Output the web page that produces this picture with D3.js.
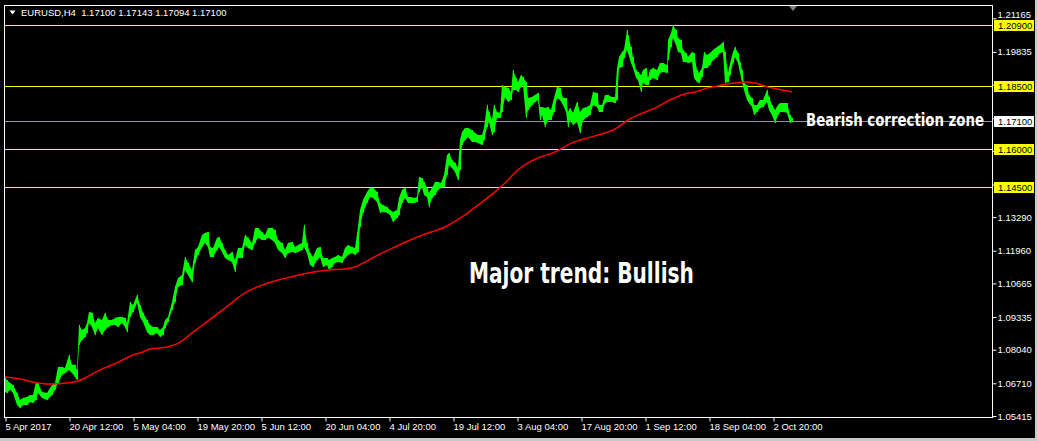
<!DOCTYPE html>
<html>
<head>
<meta charset="utf-8">
<script src="https://cdn.jsdelivr.net/npm/d3@7"></script>
<style>
  html, body { margin: 0; padding: 0; background: #000; }
  svg { display: block; }
  text { white-space: pre; }
</style>
</head>
<body>
<svg id="chart" width="1037" height="441"></svg>
<script>
// ---------------- DATA ----------------
const symbolTitle = "EURUSD,H4  1.17100 1.17143 1.17094 1.17100";
const dateLabels = ["5 Apr 2017","20 Apr 12:00","5 May 04:00","19 May 20:00","5 Jun 12:00","20 Jun 04:00","4 Jul 20:00","19 Jul 12:00","3 Aug 04:00","17 Aug 20:00","1 Sep 12:00","18 Sep 04:00","2 Oct 20:00"];
const dateTickBars = [0,64,128,192,256,320,384,448,512,576,640,704,768];
const priceTicks = [1.05415,1.06710,1.08040,1.09335,1.10665,1.11960,1.13290,1.14585,1.15915,1.17210,1.18540,1.19835,1.21165];
const hiddenTickLabels = [1.14585,1.15915,1.17210,1.18540];
const yellowLevels = [1.20900,1.18500,1.16000,1.14500];
const bidPrice = 1.17100;

// bar position (H4 bars from 5 Apr 2017), high, low
const barIndex = [
  0,2,5,8,12,15,18,22,25,28,
  31,33,37,42,47,50,53,57,60,64,
  67,70,72,74,77,80,82,84,87,90,
  93,97,100,103,107,110,113,117,120,122,
  125,128,132,135,138,142,145,148,152,155,
  158,160,163,167,170,173,177,180,183,187,
  190,193,197,200,203,205,208,212,214,217,
  220,223,227,230,233,237,240,243,247,250,
  253,257,260,263,267,270,273,277,280,283,
  287,290,293,297,299,302,305,308,312,315,
  318,322,324,327,330,333,337,340,343,347,
  350,353,355,358,362,365,368,372,375,378,
  382,385,388,392,394,397,400,403,406,409,
  412,414,417,419,422,424,427,430,433,436,
  439,442,444,447,450,453,455,457,460,463,
  467,470,473,477,479,482,484,487,489,492,
  495,497,500,503,506,508,511,513,516,518,
  521,523,527,530,533,535,537,540,543,546,
  549,552,555,558,561,563,565,568,572,575,
  578,582,585,588,592,594,597,600,603,607,
  610,612,614,617,619,622,623,626,628,631,
  633,636,638,641,643,645,648,652,655,658,
  662,663,666,668,671,673,676,678,681,683,
  687,689,692,694,697,699,702,705,708,712,
  715,718,720,723,725,728,730,733,735,737,
  739,742,744,747,749,752,755,758,762,764,
  767,770,773,775,778,782,785,787
];
const barHigh = [
  1.0692,1.0684,1.0672,1.0664,1.0633,1.0605,1.0613,1.0617,1.0625,1.0625,
  1.0676,1.0672,1.0637,1.0633,1.0664,1.0672,1.0736,1.0736,1.0732,1.0783,
  1.0744,1.0744,1.0724,1.0902,1.0882,1.0890,1.0910,1.0953,1.0950,1.0910,
  1.0930,1.0922,1.0950,1.0922,1.0922,1.0930,1.0934,1.0934,1.0930,1.0910,
  1.0993,1.0981,1.1021,1.0981,1.0950,1.0922,1.0902,1.0894,1.0894,1.0882,
  1.0894,1.0922,1.0934,1.0993,1.1052,1.1088,1.1100,1.1171,1.1148,1.1120,
  1.1199,1.1211,1.1258,1.1266,1.1270,1.1211,1.1207,1.1247,1.1250,1.1227,
  1.1199,1.1179,1.1191,1.1159,1.1207,1.1207,1.1258,1.1247,1.1227,1.1286,
  1.1286,1.1270,1.1258,1.1286,1.1286,1.1278,1.1239,1.1227,1.1199,1.1227,
  1.1231,1.1211,1.1219,1.1227,1.1298,1.1227,1.1187,1.1171,1.1207,1.1211,
  1.1167,1.1167,1.1159,1.1167,1.1171,1.1179,1.1171,1.1207,1.1219,1.1211,
  1.1207,1.1290,1.1357,1.1397,1.1429,1.1445,1.1445,1.1429,1.1385,1.1377,
  1.1369,1.1357,1.1349,1.1357,1.1405,1.1437,1.1445,1.1409,1.1409,1.1405,
  1.1409,1.1488,1.1484,1.1468,1.1445,1.1425,1.1445,1.1468,1.1468,1.1464,
  1.1496,1.1575,1.1583,1.1555,1.1544,1.1524,1.1635,1.1666,1.1682,1.1682,
  1.1674,1.1662,1.1654,1.1654,1.1682,1.1773,1.1745,1.1714,1.1773,1.1745,
  1.1742,1.1852,1.1844,1.1841,1.1825,1.1912,1.1880,1.1864,1.1892,1.1884,
  1.1864,1.1801,1.1805,1.1813,1.1821,1.1765,1.1765,1.1761,1.1765,1.1753,
  1.1801,1.1844,1.1841,1.1801,1.1801,1.1745,1.1761,1.1742,1.1785,1.1745,
  1.1761,1.1765,1.1773,1.1825,1.1821,1.1773,1.1773,1.1813,1.1813,1.1805,
  1.1805,1.1920,1.1963,1.1983,1.1991,1.2070,1.2050,1.2003,1.1963,1.1912,
  1.1904,1.1892,1.1912,1.1920,1.1880,1.1912,1.1920,1.1912,1.1940,1.1940,
  1.1932,1.2031,1.2058,1.2090,1.2070,1.2039,1.2031,1.1991,1.1979,1.1963,
  1.1983,1.1979,1.1912,1.1900,1.1920,1.1983,1.1971,1.1979,1.1991,1.2003,
  1.2011,1.2023,1.1983,1.1900,1.1939,1.1983,1.2003,1.1979,1.1943,1.1912,
  1.1860,1.1852,1.1813,1.1801,1.1773,1.1773,1.1793,1.1793,1.1833,1.1805,
  1.1773,1.1753,1.1773,1.1781,1.1781,1.1781,1.1734,1.1722
];
const barLow = [
  1.0637,1.0633,1.0645,1.0633,1.0585,1.0573,1.0585,1.0585,1.0597,1.0593,
  1.0605,1.0633,1.0613,1.0605,1.0625,1.0645,1.0672,1.0704,1.0712,1.0724,
  1.0712,1.0696,1.0684,1.0823,1.0843,1.0854,1.0870,1.0910,1.0894,1.0862,
  1.0890,1.0862,1.0882,1.0894,1.0902,1.0902,1.0894,1.0910,1.0894,1.0874,
  1.0934,1.0953,1.0989,1.0934,1.0914,1.0874,1.0862,1.0862,1.0870,1.0854,
  1.0862,1.0890,1.0914,1.0961,1.0993,1.1052,1.1060,1.1120,1.1100,1.1072,
  1.1148,1.1179,1.1211,1.1227,1.1211,1.1171,1.1171,1.1199,1.1211,1.1191,
  1.1167,1.1159,1.1151,1.1112,1.1167,1.1167,1.1219,1.1207,1.1199,1.1227,
  1.1247,1.1239,1.1239,1.1247,1.1239,1.1227,1.1199,1.1187,1.1167,1.1187,
  1.1191,1.1187,1.1191,1.1199,1.1211,1.1187,1.1140,1.1132,1.1159,1.1171,
  1.1132,1.1140,1.1120,1.1132,1.1148,1.1151,1.1148,1.1167,1.1179,1.1187,
  1.1179,1.1191,1.1290,1.1346,1.1385,1.1409,1.1405,1.1389,1.1346,1.1349,
  1.1346,1.1338,1.1310,1.1326,1.1338,1.1385,1.1405,1.1385,1.1385,1.1385,
  1.1389,1.1429,1.1448,1.1417,1.1409,1.1369,1.1405,1.1417,1.1437,1.1445,
  1.1448,1.1496,1.1536,1.1524,1.1508,1.1476,1.1516,1.1615,1.1635,1.1646,
  1.1627,1.1627,1.1623,1.1615,1.1635,1.1686,1.1706,1.1654,1.1666,1.1722,
  1.1722,1.1745,1.1805,1.1785,1.1793,1.1833,1.1833,1.1825,1.1844,1.1852,
  1.1722,1.1753,1.1773,1.1785,1.1793,1.1714,1.1734,1.1686,1.1714,1.1714,
  1.1745,1.1801,1.1793,1.1773,1.1745,1.1686,1.1714,1.1694,1.1706,1.1662,
  1.1714,1.1726,1.1734,1.1773,1.1765,1.1745,1.1745,1.1781,1.1785,1.1785,
  1.1781,1.1793,1.1920,1.1924,1.1959,1.1991,1.1979,1.1940,1.1920,1.1880,
  1.1872,1.1825,1.1860,1.1852,1.1852,1.1872,1.1880,1.1872,1.1900,1.1904,
  1.1900,1.1951,1.2003,1.2039,1.2011,1.1983,1.1979,1.1943,1.1943,1.1940,
  1.1943,1.1880,1.1864,1.1860,1.1884,1.1920,1.1920,1.1932,1.1951,1.1963,
  1.1979,1.1983,1.1860,1.1864,1.1892,1.1940,1.1963,1.1940,1.1900,1.1864,
  1.1833,1.1793,1.1781,1.1765,1.1734,1.1745,1.1761,1.1765,1.1785,1.1753,
  1.1734,1.1702,1.1734,1.1745,1.1745,1.1742,1.1702,1.1706
];

// moving average (red)
const maIndex = [0,15,28,45,62,73,82,95,112,128,138,145,155,162,172,182,188,195,220,240,257,273,290,303,323,340,350,360,373,390,420,440,457,473,490,500,513,523,533,550,567,583,593,610,623,633,650,667,680,690,703,717,730,740,750,763,777,787];
const maValues = [1.0696,1.0688,1.0676,1.0668,1.0672,1.0680,1.0696,1.0724,1.0752,1.0783,1.0795,1.0807,1.0811,1.0815,1.0827,1.0854,1.0874,1.0894,1.0969,1.1029,1.1060,1.1080,1.1096,1.1108,1.1120,1.1124,1.1132,1.1151,1.1179,1.1211,1.1262,1.1290,1.1330,1.1377,1.1429,1.1464,1.1516,1.1544,1.1563,1.1587,1.1623,1.1643,1.1654,1.1678,1.1714,1.1734,1.1761,1.1797,1.1817,1.1825,1.1841,1.1852,1.1860,1.1864,1.1860,1.1844,1.1833,1.1825];

const noteMajor = "Major trend: Bullish";
const noteBearish = "Bearish correction zone";

// ---------------- DRAW ----------------
const W = 1037, H = 441;
const svg = d3.select("#chart");
const font = "'Liberation Sans', Arial, sans-serif";
const narrow = "'Liberation Sans Narrow', 'DejaVu Sans Condensed', 'Liberation Sans', sans-serif";

svg.append("rect").attr("width", W).attr("height", H).attr("fill", "#000");
// window edges
svg.append("rect").attr("x", W - 2).attr("y", 0).attr("width", 2).attr("height", H).attr("fill", "#c8c8c8");
svg.append("rect").attr("x", 0).attr("y", H - 3).attr("width", W).attr("height", 3).attr("fill", "#c8c8c8");

const x = d3.scaleLinear().domain([0, 987]).range([5, 992]);
const y = d3.scaleLinear().domain([1.05415, 1.20900]).range([416, 25]);

const plot = svg.append("g");
plot.append("clipPath").attr("id", "clip").append("rect")
  .attr("x", 5).attr("y", 6).attr("width", 987).attr("height", 411);

// level lines
plot.selectAll("line.lvl").data(yellowLevels).join("line")
  .attr("class", "lvl")
  .attr("x1", 5).attr("x2", 992)
  .attr("y1", d => Math.round(y(d)) + 0.5).attr("y2", d => Math.round(y(d)) + 0.5)
  .attr("stroke", "#ffff00").attr("stroke-width", 1);
plot.append("line")
  .attr("x1", 5).attr("x2", 992)
  .attr("y1", Math.round(y(bidPrice)) + 0.5).attr("y2", Math.round(y(bidPrice)) + 0.5)
  .attr("stroke", "#8e97a8").attr("stroke-width", 1);

// price bars as high/low band
const bars = barIndex.map((b, i) => ({ b, h: barHigh[i], l: barLow[i] }));
const area = d3.area().x(d => x(d.b)).y0(d => y(d.l)).y1(d => y(d.h)).curve(d3.curveLinear);
plot.append("path").datum(bars).attr("d", area)
  .attr("fill", "#00ff00").attr("stroke", "none")
  .attr("clip-path", "url(#clip)");
plot.selectAll("line.bar").data(bars).join("line")
  .attr("class", "bar")
  .attr("x1", d => x(d.b) + 0.5).attr("x2", d => x(d.b) + 0.5)
  .attr("y1", d => y(d.h)).attr("y2", d => y(d.l))
  .attr("stroke", "#00ff00").attr("stroke-width", 1);

// moving average
const ma = maIndex.map((b, i) => ({ b, v: maValues[i] }));
plot.append("path").datum(ma)
  .attr("d", d3.line().x(d => x(d.b)).y(d => y(d.v)).curve(d3.curveMonotoneX))
  .attr("fill", "none").attr("stroke", "#ff0000").attr("stroke-width", 1.5);

// annotations: fit each to its measured width with a horizontal scale
function fittedText(txt, x0, yb, size, width) {
  const t = svg.append("text").attr("x", 0).attr("y", 0)
    .attr("font-family", narrow).attr("font-weight", "bold")
    .attr("font-size", size).attr("fill", "#fff").text(txt);
  const w = t.node().getComputedTextLength() || width;
  t.attr("transform", `translate(${x0},${yb}) scale(${width / w},1)`);
  return t;
}
fittedText(noteMajor, 469, 283, 28, 225);
fittedText(noteBearish, 806, 126, 18.5, 178);

// frame
svg.append("rect").attr("x", 4.5).attr("y", 5.5).attr("width", 988).attr("height", 412)
  .attr("fill", "none").attr("stroke", "#fff").attr("stroke-width", 1);

// chart shift marker
svg.append("path").attr("d", "M789,6 L797,6 L793,11 Z").attr("fill", "#808080");

// x axis
const xAxis = d3.axisBottom(x).tickValues(dateTickBars)
  .tickFormat((d, i) => dateLabels[i]).tickSize(4).tickPadding(2);
const gx = svg.append("g").attr("transform", "translate(0,417.5)").call(xAxis);
gx.select(".domain").remove();
gx.selectAll(".tick line").attr("stroke", "#fff").attr("transform", "translate(0.5,0)");
gx.selectAll(".tick text").attr("fill", "#fff").attr("text-anchor", "start")
  .attr("x", 0).attr("font-family", font).attr("font-size", 9.5);

// y axis (labels under the level boxes are hidden, as in the reference)
const yAxis = d3.axisRight(y).tickValues(priceTicks).tickSize(4).tickPadding(1)
  .tickFormat(d3.format(".5f"));
const gy = svg.append("g").attr("transform", "translate(992.5,0)").call(yAxis);
gy.select(".domain").remove();
gy.selectAll(".tick line").attr("stroke", "#fff");
gy.selectAll(".tick text").attr("fill", "#fff").attr("font-family", font).attr("font-size", 9.5);
gy.selectAll(".tick").filter(d => hiddenTickLabels.includes(d)).select("text").remove();
gy.selectAll(".tick").filter(d => d === 1.21165).select("text").attr("dy", "-0.05em");

// level price labels
const lvlLabels = yellowLevels.map(v => ({ v, bg: "#ffff00" })).concat([{ v: bidPrice, bg: "#ffffff" }]);
const lg = svg.append("g");
lg.selectAll("rect").data(lvlLabels).join("rect")
  .attr("x", 994).attr("y", d => Math.round(y(d.v)) - 5).attr("width", 40).attr("height", 11)
  .attr("fill", d => d.bg);
lg.selectAll("text").data(lvlLabels).join("text")
  .attr("x", 998).attr("y", d => Math.round(y(d.v)) + 0.5).attr("dy", "0.35em")
  .attr("font-family", font).attr("font-size", 9.5).attr("fill", "#000")
  .text(d => d3.format(".5f")(d.v));

// title
svg.append("path").attr("d", "M9.5,10.5 L15.5,10.5 L12.5,14.5 Z").attr("fill", "#fff");
svg.append("text").attr("x", 21).attr("y", 16)
  .attr("font-family", font).attr("font-size", 9.5).attr("fill", "#fff")
  .text(symbolTitle);
</script>
</body>
</html>
